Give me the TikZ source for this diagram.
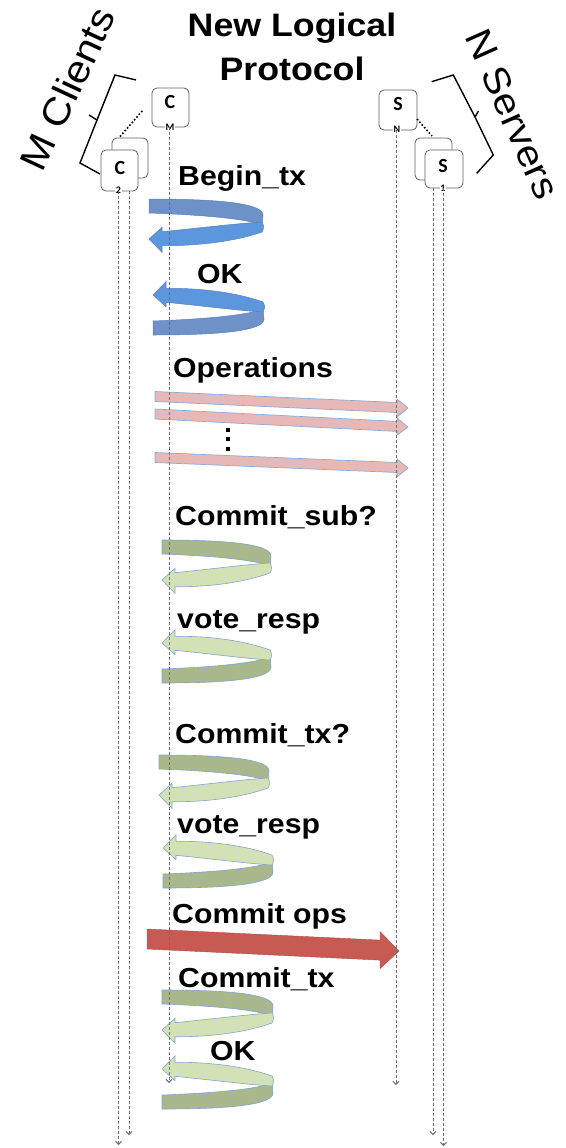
\documentclass[tikz,border=0pt]{standalone}
\usepackage{fontspec}
\setmainfont{Liberation Sans}[FakeStretch=1.1]
\newfontfamily\boxfont{Carlito}
\usetikzlibrary{arrows.meta}
\definecolor{lifegray}{RGB}{110,110,110}
\definecolor{boxgray}{RGB}{95,95,95}
\definecolor{bluebk}{RGB}{110,146,200}
\definecolor{bluefr}{RGB}{92,150,220}
\definecolor{blueedge}{RGB}{90,128,188}
\definecolor{greenbk}{RGB}{168,184,140}
\definecolor{greenfr}{RGB}{210,225,182}
\definecolor{greenedge}{RGB}{130,165,205}
\definecolor{pinkfill}{RGB}{230,185,184}
\definecolor{pinkedge}{RGB}{140,170,215}
\definecolor{redfill}{RGB}{200,90,84}
\tikzset{
  lifeline/.style={draw=lifegray, line width=0.9pt, dash pattern=on 3pt off 2pt,
    -{Straight Barb[length=3pt,width=6pt]}},
  box/.style={draw=boxgray, fill=white, rounded corners=5pt, line width=0.8pt, inner sep=0pt},
  boxlab/.style={inner sep=0pt, font=\boxfont\bfseries\fontsize{20}{20}\selectfont},
  sublab/.style={inner sep=0.5pt, fill=white, font=\boxfont\bfseries\fontsize{10}{10}\selectfont},
  lab/.style={anchor=base west, inner sep=0pt, font=\bfseries\fontsize{27.5}{30}\selectfont},
  titlelab/.style={anchor=base, inner sep=0pt, font=\bfseries\fontsize{32.5}{34}\selectfont},
  sidelab/.style={inner sep=0pt, font=\fontsize{38}{40}\selectfont},
  bracket/.style={draw=black, line width=1.4pt, line join=miter},
  blueback/.style={fill=bluebk, draw=blueedge, line width=0.5pt},
  bluefront/.style={fill=bluefr, draw=blueedge, line width=0.5pt},
  greenback/.style={fill=greenbk, draw=greenedge, line width=0.6pt},
  greenfront/.style={fill=greenfr, draw=greenedge, line width=0.6pt},
  pinkarrow/.style={fill=pinkfill, draw=pinkedge, line width=0.7pt},
  redarrow/.style={fill=redfill, draw=redfill!85!black, line width=0.4pt},
}
% U-turn ribbon arrow: #1 left x, #2 right x, #3 reference y, #4 +1/-1, #5 colour set
\newcommand\uturn[5]{%
  \begin{scope}[shift={(#1,#3)}, yscale=#4]
    \pgfmathsetmacro\uw{#2-#1}
    \path[#5back] (0,0) .. controls (0.6*\uw,0) and (\uw+1,4) .. (\uw+1,16)
      -- (\uw,26) .. controls (\uw-15,20) and (0.5*\uw,16) .. (0,14) -- cycle;
    \path[#5front] (13,32.7) .. controls (50,29) and (\uw-20,24) .. (\uw,23)
      .. controls (\uw+2,26) and (\uw+2,30) .. (\uw,33)
      .. controls (\uw-25,42) and (50,47) .. (13,46.7)
      -- (13,53.3) -- (0,40) -- (13,28.3) -- cycle;
  \end{scope}}
\begin{document}
\begin{tikzpicture}[x=1pt,y=-1pt]
\useasboundingbox (0,0) rectangle (565,1148);
% ---- title
\node[titlelab] (t1) at (292,37) {New Logical};
\node[titlelab] (t2) at (292,81) {Protocol};
% ---- side labels and brackets
\node[sidelab, rotate=65] (mcl) at (67.5,88.7) {M Clients};
\node[sidelab, rotate=-66, font=\fontsize{37}{38}\selectfont] (nsv) at (512.6,114) {N Servers};
\draw[bracket] (100,174) -- (80,163) -- (97,120) -- (115,75) -- (136,80);
\draw[bracket] (97,120) -- (89,115);
\draw[bracket] (431.7,81.7) -- (453.3,75) -- (475,117) -- (493.3,155) -- (476.7,173.3);
\draw[bracket] (475,117) -- (478.5,111);
% ---- client boxes
\node[box, minimum width=36pt, minimum height=40pt] (c2back) at (130,158) {};
\node[box, minimum width=37pt, minimum height=41pt] (c2) at (119.5,170.5) {};
\node[boxlab] (c2L) at (120,168) {C};
\node[sublab] (c2s) at (118.5,190) {2};
\node[box, minimum width=37pt, minimum height=39pt] (cm) at (170.5,107.5) {};
\node[boxlab] (cmL) at (170,102) {C};
\node[sublab] (cms) at (170,127) {M};
\draw[line width=1.6pt, dotted] (c2back.north) ++(-10,-1) coordinate (cdA) -- (143,110) coordinate (cdB);
% ---- server boxes
\node[box, minimum width=38pt, minimum height=40pt] (sn) at (398,110) {};
\node[boxlab] (snL) at (398,104) {S};
\node[sublab] (sns) at (397,129) {N};
\node[box, minimum width=37pt, minimum height=42pt] (s1back) at (433.5,159) {};
\node[box, minimum width=38pt, minimum height=38pt] (s1) at (444,169) {};
\node[boxlab] (s1L) at (443,166) {S};
\node[sublab] (s1s) at (443,188) {1};
\draw[line width=1.6pt, dotted] (417,119) coordinate (sdA) -- (432,136) coordinate (sdB);
% ---- U-turn arrows
\uturn{149}{262}{199}{1}{blue}
\uturn{153}{263}{335}{-1}{blue}
\uturn{162}{270}{540}{1}{green}
\uturn{162}{270}{683}{-1}{green}
\uturn{159}{268}{755}{1}{green}
\uturn{163}{272}{888}{-1}{green}
\uturn{162}{272}{990}{1}{green}
\uturn{162}{272}{1109}{-1}{green}
% ---- operations arrows
\path[pinkarrow] (155,391.5) -- (397,402.5) -- (397,399) -- (408,408) -- (397,417) -- (397,412.5) -- (155,401.5) -- cycle;
\path[pinkarrow] (155,409) -- (397,421.4) -- (397,418) -- (408,427) -- (397,435) -- (397,431.4) -- (155,419) -- cycle;
\path[pinkarrow] (155,452.5) -- (397,462.5) -- (397,459) -- (408,468) -- (397,477) -- (397,472.5) -- (155,462.5) -- cycle;
\fill (226,428) rectangle (230,432);
\fill (226,437) rectangle (230,441);
\fill (226,447) rectangle (230,451);
% ---- commit ops arrow
\path[redarrow] (147,929) -- (380,940.1) -- (380,931.6) -- (399,951) -- (380,968.6) -- (380,960.1) -- (147,949) -- cycle;
% ---- lifelines
\coordinate (c2a) at (118.5,1145);
\coordinate (c2b) at (129,1135);
\coordinate (cme) at (169,1083);
\coordinate (sne) at (396,1085);
\coordinate (s1a) at (433,1135);
\coordinate (s1b) at (443.5,1146);
\draw[lifeline] (c2.south -| c2a) -- (c2a);
\draw[lifeline] (c2.south -| c2b) -- (c2b);
\draw[lifeline] (cm.south -| cme) -- (cme);
\draw[lifeline] (sn.south -| sne) -- (sne);
\draw[lifeline] (s1.south -| s1a) -- (s1a);
\draw[lifeline] (s1.south -| s1b) -- (s1b);
% ---- message labels
\node[lab] (l1) at (178,185) {Begin\_tx};
\node[lab] (l2) at (197,283) {OK};
\node[lab] (l3) at (173,377) {Operations};
\node[lab] (l4) at (175,525) {Commit\_sub?};
\node[lab] (l5) at (177,628) {vote\_resp};
\node[lab] (l6) at (175,743) {Commit\_tx?};
\node[lab] (l7) at (177,833) {vote\_resp};
\node[lab] (l8) at (172,923) {Commit ops};
\node[lab] (l9) at (178,987) {Commit\_tx};
\node[lab] (l10) at (210,1060) {OK};
\end{tikzpicture}
\end{document}
